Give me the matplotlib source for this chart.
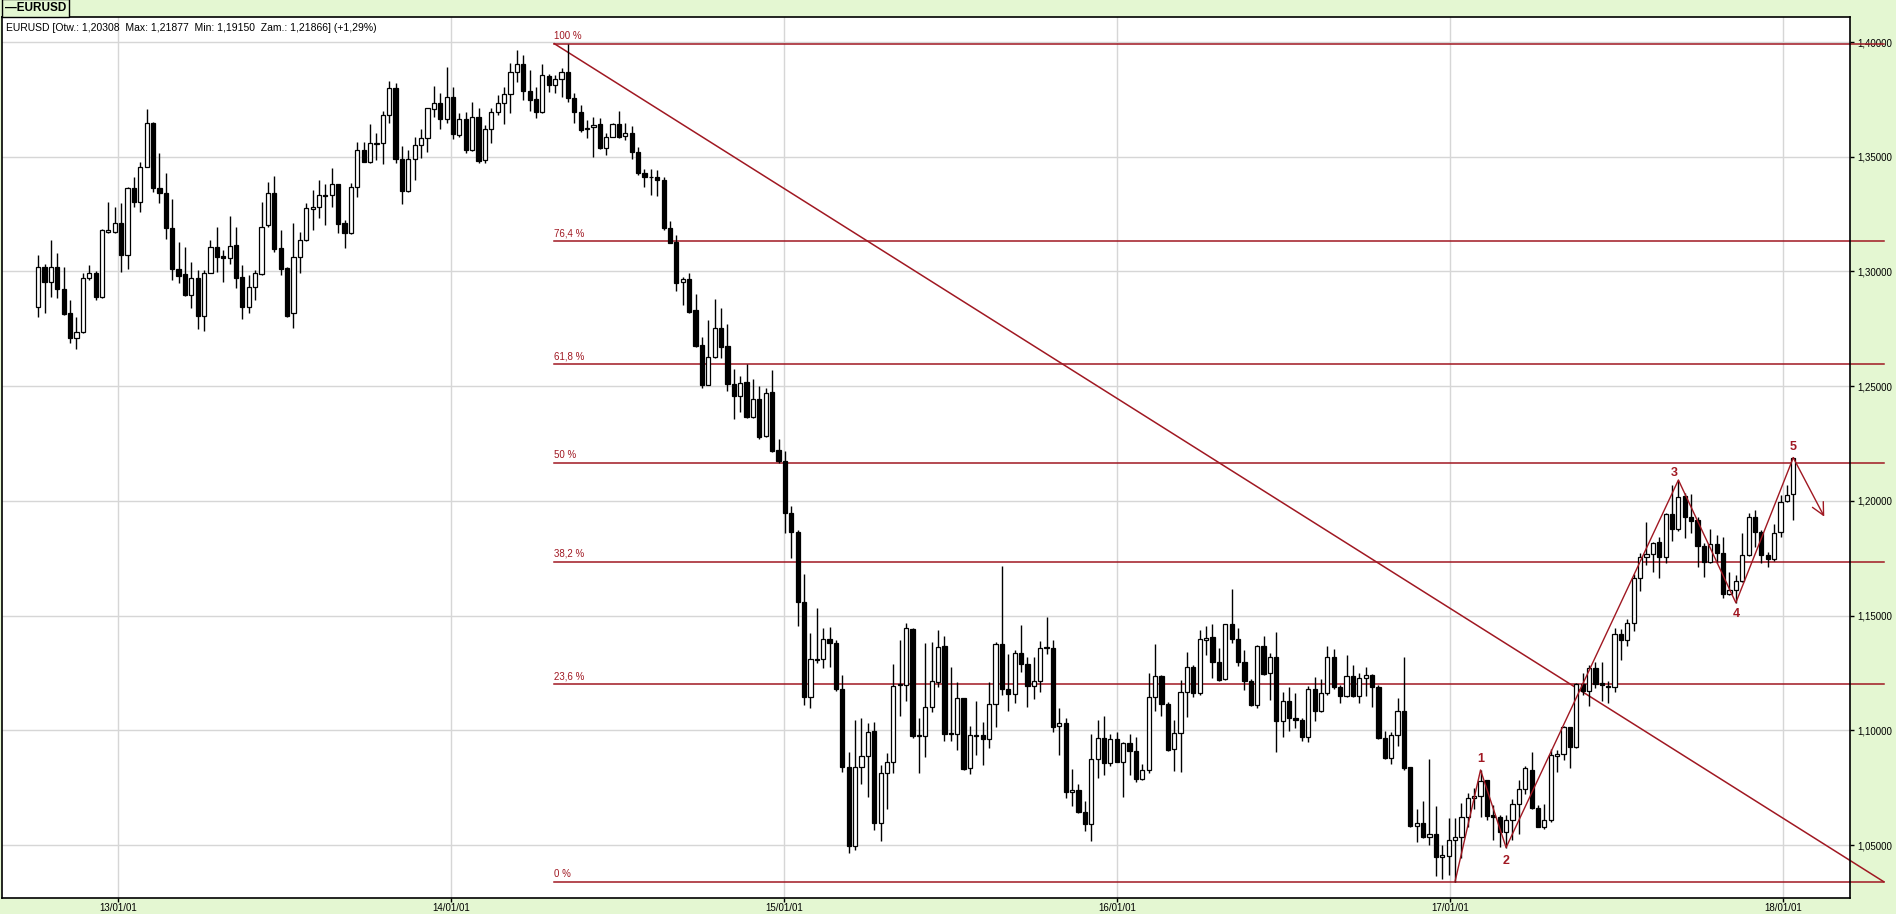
import matplotlib
matplotlib.use("Agg")
import matplotlib.pyplot as plt
import matplotlib.dates as mdates
import matplotlib.ticker as mticker
import numpy as np
import pandas as pd

BG = "#e4f7d2"
RED = "#a01822"
GRID = "#d6d6d6"

# weekly EURUSD candles, first week ends 2012-10-05
first_week = "2012-10-05"

opens = [
    1.2846, 1.3021, 1.2953, 1.3018, 1.2922, 1.2818, 1.2711, 1.2738, 1.2970, 1.2992,
    1.2890, 1.3174, 1.3174, 1.3213, 1.3072, 1.3362, 1.3304, 1.3457, 1.3646, 1.3365,
    1.3344, 1.3188, 1.3009, 1.2988, 1.2897, 1.2970, 1.2806, 1.2992, 1.3105, 1.3067,
    1.3057, 1.3115, 1.2974, 1.2844, 1.2934, 1.2988, 1.3201, 1.3344, 1.3101, 1.3014,
    1.2818, 1.3062, 1.3137, 1.3272, 1.3280, 1.3333, 1.3332, 1.3380, 1.3213, 1.3169,
    1.3370, 1.3530, 1.3479, 1.3556, 1.3559, 1.3681, 1.3801, 1.3489, 1.3352, 1.3489,
    1.3550, 1.3583, 1.3707, 1.3733, 1.3666, 1.3759, 1.3595, 1.3663, 1.3529, 1.3675,
    1.3486, 1.3620, 1.3697, 1.3733, 1.3774, 1.3871, 1.3903, 1.3788, 1.3750, 1.3697,
    1.3852, 1.3813, 1.3838, 1.3868, 1.3755, 1.3694, 1.3620, 1.3628, 1.3641, 1.3537,
    1.3588, 1.3641, 1.3589, 1.3602, 1.3522, 1.3430, 1.3410, 1.3410, 1.3400, 1.3188,
    1.3129, 1.2952, 1.2965, 1.2831, 1.2679, 1.2507, 1.2625, 1.2752, 1.2675, 1.2509,
    1.2458, 1.2516, 1.2367, 1.2442, 1.2282, 1.2473, 1.2221, 1.2175, 1.1945, 1.1865,
    1.1560, 1.1146, 1.1309, 1.1309, 1.1396, 1.1379, 1.1178, 1.0838, 1.0497, 1.0838,
    1.0890, 1.0997, 1.0594, 1.0812, 1.0863, 1.1196, 1.1197, 1.1441, 1.0976, 1.0976,
    1.1101, 1.1212, 1.1367, 1.0987, 1.0982, 1.1139, 1.0834, 1.0979, 1.0979, 1.0960,
    1.1113, 1.1374, 1.1178, 1.1156, 1.1335, 1.1287, 1.1193, 1.1217, 1.1357, 1.1357,
    1.1018, 1.1030, 1.0729, 1.0739, 1.0642, 1.0590, 1.0873, 1.0968, 1.0856, 1.0960,
    1.0863, 1.0943, 1.0911, 1.0789, 1.0829, 1.1143, 1.1238, 1.1113, 1.0917, 1.0989,
    1.1165, 1.1274, 1.1161, 1.1392, 1.1405, 1.1296, 1.1222, 1.1462, 1.1396, 1.1299,
    1.1216, 1.1110, 1.1367, 1.1248, 1.1318, 1.1042, 1.1129, 1.1052, 1.1047, 1.0972,
    1.1178, 1.1085, 1.1164, 1.1318, 1.1187, 1.1149, 1.1236, 1.1149, 1.1226, 1.1241,
    1.1187, 1.0968, 1.0880, 1.0979, 1.1084, 1.0838, 1.0584, 1.0598, 1.0533, 1.0546,
    1.0446, 1.0453, 1.0521, 1.0533, 1.0620, 1.0703, 1.0713, 1.0783, 1.0630, 1.0620,
    1.0558, 1.0609, 1.0677, 1.0742, 1.0829, 1.0660, 1.0580, 1.0609, 1.0889, 1.0896,
    1.1013, 1.0928, 1.1200, 1.1172, 1.1273, 1.1204, 1.1194, 1.1190, 1.1418, 1.1393,
    1.1466, 1.1662, 1.1754, 1.1767, 1.1819, 1.1757, 1.1941, 1.1876, 1.2021, 1.1931,
    1.1916, 1.1804, 1.1735, 1.1810, 1.1771, 1.1592, 1.1611, 1.1652, 1.1764, 1.1931,
    1.1866, 1.1766, 1.1745, 1.1866, 1.1999, 1.2031,
]
highs = [
    1.3072, 1.3033, 1.3137, 1.3079, 1.3021, 1.2876, 1.2803, 1.2992, 1.3028, 1.3000,
    1.3184, 1.3304, 1.3282, 1.3297, 1.3370, 1.3413, 1.3479, 1.3708, 1.3653, 1.3515,
    1.3431, 1.3314, 1.3130, 1.3108, 1.3043, 1.3006, 1.3006, 1.3137, 1.3195, 1.3094,
    1.3242, 1.3195, 1.3028, 1.2985, 1.3006, 1.3304, 1.3389, 1.3416, 1.3181, 1.3021,
    1.3210, 1.3174, 1.3297, 1.3355, 1.3399, 1.3381, 1.3453, 1.3381, 1.3224, 1.3384,
    1.3566, 1.3566, 1.3643, 1.3602, 1.3701, 1.3832, 1.3820, 1.3547, 1.3529, 1.3585,
    1.3620, 1.3714, 1.3808, 1.3777, 1.3890, 1.3806, 1.3689, 1.3697, 1.3740, 1.3711,
    1.3638, 1.3711, 1.3769, 1.3806, 1.3910, 1.3965, 1.3944, 1.3878, 1.3806, 1.3904,
    1.3859, 1.3856, 1.3885, 1.3993, 1.3777, 1.3726, 1.3660, 1.3672, 1.3668, 1.3602,
    1.3646, 1.3701, 1.3646, 1.3634, 1.3544, 1.3445, 1.3445, 1.3440, 1.3410, 1.3221,
    1.3158, 1.2977, 1.2994, 1.2900, 1.2715, 1.2788, 1.2882, 1.2839, 1.2770, 1.2574,
    1.2544, 1.2595, 1.2529, 1.2500, 1.2490, 1.2570, 1.2268, 1.2218, 1.1977, 1.1873,
    1.1681, 1.1425, 1.1531, 1.1444, 1.1451, 1.1393, 1.1241, 1.0906, 1.1045, 1.1052,
    1.1030, 1.1034, 1.0848, 1.0902, 1.1289, 1.1393, 1.1469, 1.1444, 1.1052, 1.1382,
    1.1386, 1.1437, 1.1411, 1.1274, 1.1212, 1.1142, 1.1018, 1.1127, 1.1037, 1.1212,
    1.1386, 1.1716, 1.1332, 1.1350, 1.1459, 1.1318, 1.1318, 1.1389, 1.1492, 1.1393,
    1.1095, 1.1052, 1.0830, 1.0766, 1.0693, 1.0984, 1.1045, 1.1063, 1.0983, 1.0991,
    1.0950, 1.0983, 1.0972, 1.0853, 1.1248, 1.1376, 1.1241, 1.1124, 1.1045, 1.1219,
    1.1341, 1.1284, 1.1437, 1.1454, 1.1463, 1.1357, 1.1462, 1.1616, 1.1444, 1.1350,
    1.1222, 1.1372, 1.1413, 1.1335, 1.1429, 1.1168, 1.1187, 1.1164, 1.1052, 1.1193,
    1.1231, 1.1222, 1.1367, 1.1353, 1.1197, 1.1328, 1.1284, 1.1251, 1.1277, 1.1245,
    1.1197, 1.0998, 1.0994, 1.1139, 1.1321, 1.0841, 1.0659, 1.0693, 1.0873, 1.0670,
    1.0500, 1.0616, 1.0616, 1.0684, 1.0725, 1.0747, 1.0827, 1.0783, 1.0674, 1.0630,
    1.0630, 1.0699, 1.0783, 1.0844, 1.0904, 1.0674, 1.0678, 1.0917, 1.0914, 1.1018,
    1.1016, 1.1207, 1.1248, 1.1284, 1.1299, 1.1299, 1.1216, 1.1444, 1.1440, 1.1483,
    1.1681, 1.1774, 1.1909, 1.1822, 1.1841, 1.1945, 1.2069, 1.2091, 1.2033, 1.2030,
    1.1931, 1.1818, 1.1876, 1.1851, 1.1841, 1.1691, 1.1677, 1.1858, 1.1945, 1.1960,
    1.1873, 1.1778, 1.1899, 1.2025, 1.2069, 1.2188,
]
lows = [
    1.2800, 1.2820, 1.2887, 1.2883, 1.2810, 1.2687, 1.2661, 1.2733, 1.2963, 1.2876,
    1.2883, 1.3166, 1.3166, 1.2996, 1.3009, 1.3282, 1.3261, 1.3454, 1.3348, 1.3300,
    1.3140, 1.2963, 1.2951, 1.2893, 1.2842, 1.2748, 1.2742, 1.2992, 1.2999, 1.2953,
    1.3031, 1.2929, 1.2791, 1.2817, 1.2876, 1.2985, 1.3195, 1.3086, 1.2985, 1.2803,
    1.2752, 1.2992, 1.3134, 1.3181, 1.3235, 1.3203, 1.3282, 1.3169, 1.3101, 1.3162,
    1.3326, 1.3479, 1.3474, 1.3486, 1.3468, 1.3646, 1.3474, 1.3293, 1.3348, 1.3399,
    1.3493, 1.3522, 1.3675, 1.3620, 1.3649, 1.3576, 1.3588, 1.3515, 1.3525, 1.3474,
    1.3474, 1.3559, 1.3682, 1.3641, 1.3689, 1.3827, 1.3747, 1.3700, 1.3668, 1.3692,
    1.3784, 1.3777, 1.3762, 1.3740, 1.3646, 1.3609, 1.3580, 1.3498, 1.3532, 1.3508,
    1.3588, 1.3580, 1.3573, 1.3489, 1.3421, 1.3367, 1.3333, 1.3330, 1.3180, 1.3122,
    1.2916, 1.2853, 1.2820, 1.2672, 1.2494, 1.2505, 1.2621, 1.2621, 1.2480, 1.2355,
    1.2388, 1.2359, 1.2359, 1.2268, 1.2279, 1.2214, 1.2163, 1.1861, 1.1753, 1.1454,
    1.1110, 1.1095, 1.1292, 1.1270, 1.1277, 1.1172, 1.0819, 1.0463, 1.0478, 1.0768,
    1.0710, 1.0565, 1.0519, 1.0659, 1.0815, 1.1062, 1.1129, 1.0965, 1.0815, 1.0885,
    1.1081, 1.1187, 1.0953, 1.0953, 1.0914, 1.0827, 1.0808, 1.0892, 1.0848, 1.0924,
    1.1015, 1.1153, 1.1085, 1.1120, 1.1255, 1.1103, 1.1135, 1.1168, 1.1331, 1.0994,
    1.0892, 1.0703, 1.0670, 1.0638, 1.0562, 1.0519, 1.0790, 1.0805, 1.0845, 1.0863,
    1.0710, 1.0805, 1.0776, 1.0783, 1.0812, 1.1085, 1.1063, 1.0911, 1.0824, 1.0818,
    1.1056, 1.1143, 1.1153, 1.1328, 1.1226, 1.1216, 1.1219, 1.1382, 1.1280, 1.1175,
    1.1106, 1.1095, 1.1241, 1.1132, 1.0906, 1.0969, 1.0998, 1.1008, 1.0953, 1.0950,
    1.1042, 1.1081, 1.1153, 1.1178, 1.1120, 1.1146, 1.1143, 1.1120, 1.1149, 1.1103,
    1.0962, 1.0877, 1.0851, 1.0933, 1.0826, 1.0580, 1.0514, 1.0529, 1.0500, 1.0365,
    1.0350, 1.0369, 1.0340, 1.0442, 1.0580, 1.0655, 1.0620, 1.0609, 1.0521, 1.0492,
    1.0489, 1.0521, 1.0550, 1.0722, 1.0657, 1.0577, 1.0568, 1.0601, 1.0819, 1.0870,
    1.0837, 1.0921, 1.1154, 1.1107, 1.1183, 1.1129, 1.1117, 1.1168, 1.1306, 1.1368,
    1.1434, 1.1607, 1.1720, 1.1688, 1.1662, 1.1727, 1.1826, 1.1870, 1.1836, 1.1858,
    1.1713, 1.1666, 1.1730, 1.1730, 1.1575, 1.1589, 1.1556, 1.1647, 1.1759, 1.1800,
    1.1727, 1.1713, 1.1739, 1.1844, 1.1996, 1.1915,
]
closes = [
    1.3021, 1.2953, 1.3021, 1.2922, 1.2815, 1.2711, 1.2738, 1.2970, 1.2992, 1.2890,
    1.3181, 1.3181, 1.3213, 1.3072, 1.3362, 1.3304, 1.3457, 1.3646, 1.3365, 1.3341,
    1.3191, 1.3009, 1.2982, 1.2897, 1.2970, 1.2806, 1.2992, 1.3105, 1.3065, 1.3057,
    1.3112, 1.2973, 1.2844, 1.2934, 1.2992, 1.3195, 1.3344, 1.3099, 1.3009, 1.2806,
    1.3062, 1.3137, 1.3275, 1.3280, 1.3332, 1.3329, 1.3380, 1.3208, 1.3169, 1.3370,
    1.3530, 1.3479, 1.3559, 1.3559, 1.3681, 1.3801, 1.3489, 1.3352, 1.3489, 1.3550,
    1.3583, 1.3711, 1.3733, 1.3666, 1.3759, 1.3598, 1.3663, 1.3529, 1.3675, 1.3483,
    1.3620, 1.3697, 1.3733, 1.3774, 1.3871, 1.3903, 1.3788, 1.3747, 1.3697, 1.3856,
    1.3813, 1.3838, 1.3868, 1.3755, 1.3694, 1.3617, 1.3627, 1.3638, 1.3537, 1.3588,
    1.3641, 1.3588, 1.3602, 1.3522, 1.3428, 1.3410, 1.3410, 1.3400, 1.3188, 1.3125,
    1.2951, 1.2967, 1.2824, 1.2675, 1.2505, 1.2625, 1.2752, 1.2672, 1.2508, 1.2458,
    1.2515, 1.2364, 1.2442, 1.2279, 1.2471, 1.2218, 1.2175, 1.1945, 1.1865, 1.1560,
    1.1143, 1.1309, 1.1306, 1.1396, 1.1379, 1.1178, 1.0838, 1.0497, 1.0838, 1.0890,
    1.0994, 1.0594, 1.0812, 1.0863, 1.1193, 1.1200, 1.1444, 1.0976, 1.0979, 1.1101,
    1.1213, 1.1364, 1.0985, 1.0982, 1.1139, 1.0831, 1.0978, 1.0976, 1.0960, 1.1113,
    1.1374, 1.1178, 1.1156, 1.1335, 1.1287, 1.1193, 1.1217, 1.1360, 1.1361, 1.1015,
    1.1030, 1.0729, 1.0739, 1.0642, 1.0590, 1.0873, 1.0968, 1.0856, 1.0960, 1.0863,
    1.0943, 1.0911, 1.0789, 1.0829, 1.1143, 1.1238, 1.1113, 1.0914, 1.0989, 1.1165,
    1.1274, 1.1161, 1.1396, 1.1403, 1.1296, 1.1219, 1.1462, 1.1396, 1.1299, 1.1216,
    1.1110, 1.1367, 1.1245, 1.1318, 1.1042, 1.1129, 1.1052, 1.1045, 1.0972, 1.1178,
    1.1085, 1.1164, 1.1318, 1.1187, 1.1149, 1.1236, 1.1149, 1.1226, 1.1241, 1.1187,
    1.0968, 1.0880, 1.0979, 1.1084, 1.0834, 1.0584, 1.0598, 1.0533, 1.0546, 1.0446,
    1.0456, 1.0521, 1.0533, 1.0620, 1.0703, 1.0713, 1.0780, 1.0627, 1.0620, 1.0558,
    1.0609, 1.0677, 1.0742, 1.0834, 1.0660, 1.0580, 1.0609, 1.0892, 1.0896, 1.1013,
    1.0928, 1.1200, 1.1172, 1.1273, 1.1201, 1.1197, 1.1190, 1.1418, 1.1393, 1.1466,
    1.1662, 1.1754, 1.1767, 1.1817, 1.1757, 1.1941, 1.1876, 1.2018, 1.1931, 1.1914,
    1.1804, 1.1735, 1.1810, 1.1771, 1.1592, 1.1611, 1.1652, 1.1764, 1.1931, 1.1866,
    1.1764, 1.1745, 1.1858, 1.1996, 1.2025, 1.2187,
]

# Fibonacci retracement between the 2014 high and the 2017 low
fib_ratios = [1.0, 0.764, 0.618, 0.5, 0.382, 0.236, 0.0]
fib_labels = ["100 %", "76,4 %", "61,8 %", "50 %", "38,2 %", "23,6 %", "0 %"]

# Elliott wave points: candle index and whether it is a high
wave_idx = [222, 226, 230, 257, 266, 275]
wave_is_high = [False, True, False, True, False, True]
wave_names = ["", "1", "2", "3", "4", "5"]
arrow_end_value = 1.1931

header = "EURUSD [Otw.: 1,20308  Max: 1,21877  Min: 1,19150  Zam.: 1,21866] (+1,29%)"

opens = np.array(opens)
highs = np.array(highs)
lows = np.array(lows)
closes = np.array(closes)

dates = pd.date_range(first_week, periods=len(closes), freq="7D")
x = mdates.date2num(dates)

plt.rcParams["font.family"] = ["Liberation Sans", "DejaVu Sans"]

fig = plt.figure(figsize=(18.96, 9.14), dpi=100, facecolor=BG)
ax = fig.add_axes([2 / 1896, 16 / 914, 1848 / 1896, 881 / 914])
ax.set_facecolor("white")

x_left = mdates.date2num(pd.Timestamp("2012-08-26 08:00"))
x_right = mdates.date2num(pd.Timestamp("2018-03-15 05:00"))
ax.set_xlim(x_left, x_right)
ax.set_ylim(1.0269, 1.4109)

# grid
year_ticks = mdates.date2num(pd.to_datetime(["2013-01-01", "2014-01-01", "2015-01-01",
                                             "2016-01-01", "2017-01-01", "2018-01-01"]))
price_ticks = np.arange(1.05, 1.4001, 0.05)
for yt in price_ticks:
    ax.axhline(yt, color=GRID, lw=1, zorder=1)
for xt in year_ticks:
    ax.axvline(xt, color=GRID, lw=1, zorder=1)

# candles
up = closes >= opens
body_lo = np.minimum(opens, closes)
body_h = np.abs(closes - opens)
ax.vlines(x, lows, highs, color="black", lw=1, zorder=3)
ax.bar(x[up], body_h[up], bottom=body_lo[up], width=4.6, color="white",
       edgecolor="black", linewidth=0.9, zorder=4)
ax.bar(x[~up], body_h[~up], bottom=body_lo[~up], width=4.6, color="black",
       edgecolor="black", linewidth=0.9, zorder=4)

# fibonacci tool
hi = highs.max()
lo = lows.min()
fib_start = mdates.date2num(dates[highs.argmax()]) - 15
fib_end = x_right + 37
for r, lab in zip(fib_ratios, fib_labels):
    lvl = lo + (hi - lo) * r
    ax.plot([fib_start, fib_end], [lvl, lvl], color=RED, lw=1.1, zorder=2, clip_on=False)
    ax.text(fib_start, lvl + 0.0012, lab, color=RED, fontsize=7, ha="left", va="bottom", zorder=6)
ax.plot([fib_start, fib_end], [hi, lo], color=RED, lw=1.1, zorder=2, clip_on=False)

# wave count
wx = [x[i] for i in wave_idx]
wy = [highs[i] if h else lows[i] for i, h in zip(wave_idx, wave_is_high)]
label_offsets = [(0, 0), (0, 8), (0, -10), (-3, 5), (0, -8), (0, 8)]
ax.plot(wx, wy, color=RED, lw=1.0, zorder=5)
for px, py, off, name in zip(wx, wy, label_offsets, wave_names):
    if name:
        ax.annotate(name, (px, py), xytext=off, textcoords="offset points",
                    ha="center", va="center", color=RED, fontsize=9, fontweight="bold", zorder=6)
ax.annotate("", xy=(wx[-1] + 34, arrow_end_value), xytext=(wx[-1], wy[-1]),
            arrowprops=dict(arrowstyle="->", color=RED, lw=1.0, mutation_scale=22,
                            shrinkA=0, shrinkB=0), zorder=5)

# axes styling
for s in ax.spines.values():
    s.set_color("black")
    s.set_linewidth(1.2)
ax.yaxis.tick_right()
ax.set_yticks(price_ticks)
ax.yaxis.set_major_formatter(mticker.FuncFormatter(lambda v, p: f"{v:.5f}".replace(".", ",")))
ax.set_xticks(year_ticks)
ax.xaxis.set_major_formatter(mdates.DateFormatter("%y/%m/%d"))
ax.tick_params(axis="y", direction="out", length=3, width=1, pad=2, labelsize=7, colors="black")
ax.tick_params(axis="x", direction="out", length=3, width=1, pad=0.5, labelsize=7, colors="black")
for lbl in ax.get_yticklabels():
    lbl.set_bbox(dict(facecolor=BG, edgecolor="none", pad=0.5))

ax.text(0.002, 0.993, header, transform=ax.transAxes, fontsize=7.5, ha="left", va="top",
        color="black", zorder=7)

fig.text(5 / 1896, 1 - 8 / 914, "\u2014EURUSD", fontsize=8.5, fontweight="bold", ha="left",
         va="center", bbox=dict(boxstyle="square,pad=0.25", facecolor=BG, edgecolor="black", lw=1))

fig.savefig("out.png", dpi=100, facecolor=BG)
